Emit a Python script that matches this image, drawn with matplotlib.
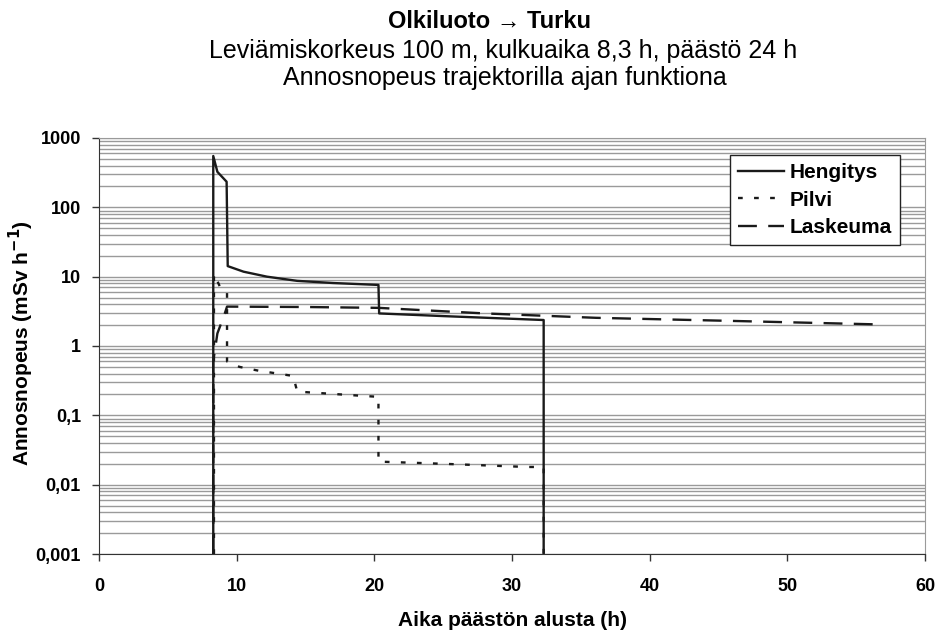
import matplotlib
matplotlib.use("Agg")
import matplotlib.pyplot as plt
from matplotlib.ticker import FixedLocator, LogLocator, NullFormatter

plt.rcParams['font.family'] = ['Liberation Sans', 'DejaVu Sans']

# Hengitys (inhalation)
heng_t = [8.3, 8.3, 8.6, 9.27, 9.35, 10.5, 12.2, 14.4, 17.0, 20.3, 20.35, 25.0, 32.3, 32.3]
heng_v = [0.001, 550, 325, 234, 14.2, 11.8, 10.0, 8.7, 8.1, 7.6, 2.95, 2.7, 2.37, 0.001]

# Pilvi (cloud)
pilvi_t = [8.35, 8.35, 8.9, 9.3, 9.3, 10.2, 11.6, 14.1, 14.4, 19.3, 20.3, 20.3, 25.0, 31.1, 32.3, 32.3]
pilvi_v = [0.001, 11.0, 6.4, 6.0, 0.6, 0.5, 0.44, 0.37, 0.22, 0.19, 0.185, 0.0215, 0.02, 0.018, 0.018, 0.001]

# Laskeuma (deposition)
lask_t = [8.3, 8.3, 8.6, 9.1, 9.3, 15.0, 20.3, 28.0, 36.1, 46.0, 56.5]
lask_v = [0.001, 0.6, 1.52, 2.8, 3.7, 3.65, 3.55, 2.95, 2.55, 2.3, 2.05]

x_ticks = [0, 10, 20, 30, 40, 50, 60]
y_ticks = [0.001, 0.01, 0.1, 1, 10, 100, 1000]
y_labels = ['0,001', '0,01', '0,1', '1', '10', '100', '1000']

fig = plt.figure(figsize=(9.39, 6.3), dpi=100)
ax = fig.add_axes([99 / 939, 1 - 554 / 630, 826 / 939, 416 / 630])

ax.plot(heng_t, heng_v, color='#1a1a1a', lw=1.7, label='Hengitys')
ax.plot(pilvi_t, pilvi_v, color='#1a1a1a', lw=1.7, linestyle=(0, (2, 4.8)), label='Pilvi')
ax.plot(lask_t, lask_v, color='#1a1a1a', lw=1.7, linestyle=(0, (8, 4.8)), label='Laskeuma')

ax.set_yscale('log')
ax.set_xlim(0, 60)
ax.set_ylim(0.001, 1000)
ax.set_xticks(x_ticks)
ax.set_xticklabels([str(t) for t in x_ticks], fontsize=13, fontweight='bold')
ax.yaxis.set_major_locator(FixedLocator(y_ticks))
ax.set_yticklabels(y_labels, fontsize=13, fontweight='bold')
ax.yaxis.set_minor_locator(LogLocator(base=10, subs=range(2, 10)))
ax.yaxis.set_minor_formatter(NullFormatter())
ax.tick_params(axis='y', which='minor', length=0)
ax.tick_params(axis='y', which='major', length=5, width=1, color='#333333', pad=8)
ax.tick_params(axis='x', which='major', length=5, width=1, color='#333333', pad=12)

ax.grid(True, which='both', axis='y', color='#9a9a9a', lw=1)
ax.set_axisbelow(True)
for side in ['top', 'right']:
    ax.spines[side].set_color('#9a9a9a')
for side in ['left', 'bottom']:
    ax.spines[side].set_color('#333333')

ax.set_xlabel('Aika päästön alusta (h)', fontsize=15, fontweight='bold', labelpad=12)
ax.set_ylabel('Annosnopeus (mSv h$^{\\mathbf{-1}}$)', fontsize=15, fontweight='bold', va='center')
ax.yaxis.set_label_coords((21 - 99) / 826, (554 - 343) / 416)

leg = ax.legend(loc='upper right', bbox_to_anchor=((900 - 99) / 826, (554 - 155) / 416), borderaxespad=0,
                prop={'weight': 'bold', 'size': 15}, frameon=True, fancybox=False,
                handlelength=2.2, handletextpad=0.25, borderpad=0.4, labelspacing=0.4)
leg.get_frame().set_edgecolor('#222222')
leg.get_frame().set_linewidth(1)
leg.get_frame().set_alpha(1)

fig.text(489 / 939, 1 - 28 / 630, 'Olkiluoto → Turku', ha='center', va='baseline', fontsize=17, fontweight='bold')
fig.text(503 / 939, 1 - 58 / 630, 'Leviämiskorkeus 100 m, kulkuaika 8,3 h, päästö 24 h', ha='center', va='baseline', fontsize=18)
fig.text(505 / 939, 1 - 85 / 630, 'Annosnopeus trajektorilla ajan funktiona', ha='center', va='baseline', fontsize=18)

fig.savefig('out.png', dpi=100)
